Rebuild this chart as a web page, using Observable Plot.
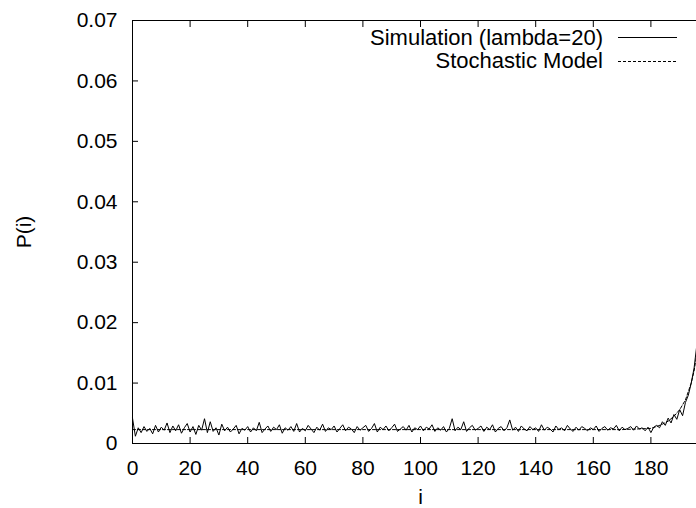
<!DOCTYPE html>
<html><head><meta charset="utf-8">
<script src="https://cdn.jsdelivr.net/npm/d3@7"></script>
<script src="https://cdn.jsdelivr.net/npm/@observablehq/plot@0.6"></script>
<style>
html,body{margin:0;padding:0;background:#fff;overflow:hidden;width:696px;height:508px}
#wrap{position:relative;width:710px;height:508px}
#legend{position:absolute;left:0;top:0;font-family:"Liberation Sans",Arial,sans-serif;font-size:22px;color:#000}
.row{position:absolute;left:250px;width:353px;text-align:right;line-height:22px;white-space:nowrap}
</style></head><body><div id="wrap"></div>
<script>
const simValues = [
0.0042,0.0012,0.0026,0.0018,0.0028,0.0020,0.0025,0.0016,0.0030,0.0019,0.0027,0.0022,0.0034,0.0018,0.0029,0.0021,0.0031,0.0017,0.0026,0.0033,
0.0019,0.0028,0.0015,0.0030,0.0022,0.0041,0.0018,0.0036,0.0020,0.0026,0.0014,0.0032,0.0021,0.0027,0.0019,0.0024,0.0030,0.0016,0.0025,0.0022,
0.0028,0.0019,0.0026,0.0021,0.0035,0.0018,0.0024,0.0029,0.0020,0.0027,0.0023,0.0031,0.0017,0.0026,0.0022,0.0028,0.0020,0.0033,0.0019,0.0025,
0.0021,0.0030,0.0024,0.0018,0.0027,0.0022,0.0032,0.0020,0.0026,0.0023,0.0029,0.0019,0.0025,0.0031,0.0021,0.0027,0.0024,0.0018,0.0028,0.0022,
0.0026,0.0030,0.0020,0.0025,0.0033,0.0019,0.0027,0.0023,0.0029,0.0021,0.0026,0.0032,0.0020,0.0024,0.0028,0.0022,0.0030,0.0019,0.0026,0.0023,
0.0029,0.0021,0.0027,0.0024,0.0031,0.0020,0.0026,0.0022,0.0028,0.0019,0.0025,0.0041,0.0021,0.0027,0.0023,0.0036,0.0020,0.0026,0.0030,0.0022,
0.0025,0.0029,0.0020,0.0027,0.0023,0.0031,0.0019,0.0025,0.0028,0.0021,0.0026,0.0039,0.0022,0.0027,0.0020,0.0029,0.0024,0.0021,0.0028,0.0023,
0.0026,0.0020,0.0031,0.0022,0.0027,0.0024,0.0019,0.0029,0.0023,0.0026,0.0021,0.0030,0.0024,0.0020,0.0027,0.0022,0.0028,0.0025,0.0021,0.0026,
0.0023,0.0029,0.0020,0.0025,0.0028,0.0022,0.0026,0.0024,0.0030,0.0021,0.0027,0.0023,0.0025,0.0028,0.0022,0.0029,0.0024,0.0026,0.0021,0.0027,
0.0018,0.0027,0.0030,0.0026,0.0036,0.0030,0.0042,0.0034,0.0048,0.0040,0.0056,0.0046,0.0068,0.0080,0.0100,0.0125,0.0165,0.0220,0.0310,0.0460
];
const modelIndex  = [0, 20, 40, 60, 80, 100, 120, 140, 160, 170, 175, 180, 182, 184, 186, 188, 190, 192, 194, 195, 196, 197, 198, 199];
const modelValues = [0.0023, 0.0023, 0.0023, 0.0023, 0.0023, 0.0023, 0.0023, 0.0023, 0.0023, 0.0023, 0.0024, 0.0025, 0.0028, 0.0032, 0.0037, 0.0045, 0.0056, 0.0072, 0.0100, 0.0120, 0.0150, 0.0200, 0.0280, 0.0420];
const xTickLabels = [0, 20, 40, 60, 80, 100, 120, 140, 160, 180];
const xTickMarks = [0, 20, 40, 60, 80, 100, 120, 140, 160, 180, 200];
const yTicks = [0, 0.01, 0.02, 0.03, 0.04, 0.05, 0.06, 0.07];
const seriesNames = ["Simulation (lambda=20)", "Stochastic Model"];
const xLabel = "i";
const yLabel = "P(i)";

const sim = simValues.map((p, i) => ({i, p}));
const model = modelIndex.map((i, k) => ({i, p: modelValues[k]}));
const fmtY = d => d === 0 ? "0" : d.toFixed(2);
const FS = 21;

const chart = Plot.plot({
  width: 710, height: 508,
  marginLeft: 132, marginRight: 2, marginTop: 20, marginBottom: 65,
  style: {fontFamily: "'Liberation Sans', Arial, sans-serif", fontSize: FS + "px", color: "#000", background: "#fff", overflow: "visible"},
  x: {domain: [0, 200]},
  y: {domain: [0, 0.07]},
  marks: [
    Plot.axisX({anchor: "bottom", ticks: xTickLabels, tickSize: 0, tickPadding: 17, label: xLabel, labelAnchor: "center", labelOffset: 60, labelArrow: "none", fontSize: FS}),
    Plot.axisX({anchor: "bottom", ticks: xTickMarks, tickSize: -6, tickFormat: () => "", label: null}),
    Plot.axisX({anchor: "top", ticks: xTickMarks, tickSize: -6, tickFormat: () => "", label: null}),
    Plot.axisY({anchor: "left", ticks: yTicks, tickSize: 0, tickPadding: 15, tickFormat: fmtY, label: yLabel, labelAnchor: "center", labelOffset: 116, labelArrow: "none", fontSize: FS}),
    Plot.axisY({anchor: "left", ticks: yTicks, tickSize: -6, tickFormat: () => "", label: null}),
    Plot.axisY({anchor: "right", ticks: yTicks, tickSize: -6, tickFormat: () => "", label: null}),
    Plot.line(model, {x: "i", y: "p", stroke: "#000", strokeWidth: 1, strokeDasharray: "3,2"}),
    Plot.line(sim, {x: "i", y: "p", stroke: "#000", strokeWidth: 1}),
    Plot.frame({stroke: "#000", strokeWidth: 1})
  ]
});
const wrap = document.getElementById("wrap");
wrap.appendChild(chart);

const legend = document.createElement("div");
legend.id = "legend";
const dashes = [null, "3,2"];
seriesNames.forEach((name, k) => {
  const row = document.createElement("div");
  row.className = "row";
  row.style.top = (27 + k * 23) + "px";
  row.textContent = name;
  legend.appendChild(row);
  const s = document.createElementNS("http://www.w3.org/2000/svg", "svg");
  s.setAttribute("width", 60); s.setAttribute("height", 4);
  s.style.position = "absolute"; s.style.left = "618px"; s.style.top = (36 + k * 24) + "px";
  const ln = document.createElementNS("http://www.w3.org/2000/svg", "line");
  ln.setAttribute("x1", 0); ln.setAttribute("x2", 59); ln.setAttribute("y1", 1.5); ln.setAttribute("y2", 1.5);
  ln.setAttribute("stroke", "#000"); ln.setAttribute("stroke-width", 1);
  if (dashes[k]) ln.setAttribute("stroke-dasharray", dashes[k]);
  s.appendChild(ln);
  legend.appendChild(s);
});
wrap.appendChild(legend);
</script>
</body></html>
